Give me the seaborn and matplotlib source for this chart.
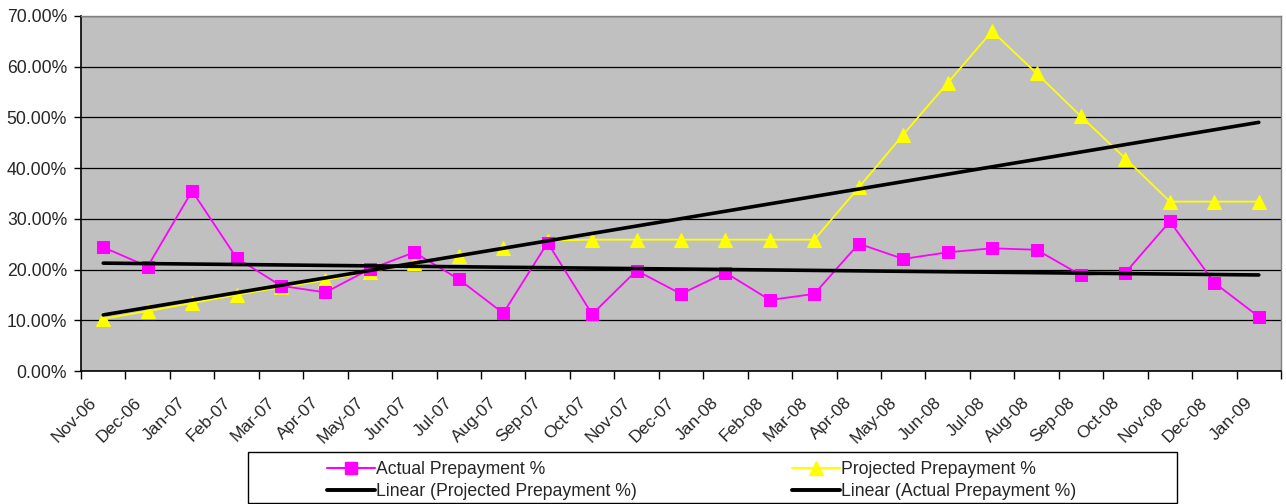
import numpy as np
import pandas as pd
import matplotlib
matplotlib.use("Agg")
import matplotlib.pyplot as plt
import seaborn as sns
from matplotlib.ticker import FuncFormatter, FixedLocator
from matplotlib.lines import Line2D
from matplotlib.patches import Rectangle

months = ["Nov-06", "Dec-06", "Jan-07", "Feb-07", "Mar-07", "Apr-07", "May-07", "Jun-07",
          "Jul-07", "Aug-07", "Sep-07", "Oct-07", "Nov-07", "Dec-07", "Jan-08", "Feb-08",
          "Mar-08", "Apr-08", "May-08", "Jun-08", "Jul-08", "Aug-08", "Sep-08", "Oct-08",
          "Nov-08", "Dec-08", "Jan-09"]
actual = [24.4, 20.6, 35.5, 22.3, 16.8, 15.5, 20.1, 23.4, 18.1, 11.4, 25.3, 11.2, 19.8,
          15.2, 19.4, 14.0, 15.2, 25.1, 22.1, 23.4, 24.2, 23.9, 18.9, 19.4, 29.5, 17.4, 10.7]
projected = [10.3, 11.8, 13.4, 15.0, 16.5, 17.9, 19.6, 21.2, 22.6, 24.2, 25.7, 25.9, 25.9,
             25.9, 25.9, 25.9, 25.9, 36.2, 46.6, 56.8, 67.0, 58.7, 50.2, 41.9, 33.4, 33.4, 33.4]

sns.set_style("white")
plt.rcParams['font.family'] = ['Liberation Sans', 'DejaVu Sans']

df = pd.DataFrame({"x": np.arange(len(months)), "month": months,
                   "actual": actual, "projected": projected})

W, H = 1286, 504
fig = plt.figure(figsize=(W / 100, H / 100), dpi=100)
ax = fig.add_axes([81 / W, 1 - 371 / H, 1200 / W, 355 / H])
ax.set_facecolor("#C0C0C0")

pink = "#FF00FF"
yellow = "#FFFF00"

sns.lineplot(data=df, x="x", y="projected", ax=ax, color=yellow, lw=1.3,
             marker="^", markersize=10, markeredgecolor=yellow, zorder=3)
sns.lineplot(data=df, x="x", y="actual", ax=ax, color=pink, lw=1.3,
             marker="s", markersize=9, markeredgecolor=pink, zorder=4)
sns.regplot(data=df, x="x", y="projected", ax=ax, scatter=False, ci=None,
            line_kws=dict(color="black", lw=2.6, zorder=5, solid_capstyle="round"))
sns.regplot(data=df, x="x", y="actual", ax=ax, scatter=False, ci=None,
            line_kws=dict(color="black", lw=2.6, zorder=5, solid_capstyle="round"))

n = len(months)
ax.set_xlim(-0.5, n - 0.5)
ax.set_ylim(0, 70)
ax.set_yticks(np.arange(0, 71, 10))
ax.yaxis.set_major_formatter(FuncFormatter(lambda v, p: f"{v:.2f}%"))
ax.grid(axis="y", color="black", lw=0.9)
ax.grid(axis="x", visible=False)
ax.set_axisbelow(True)

bounds = np.arange(-0.5, n, 1)
ax.xaxis.set_major_locator(FixedLocator(bounds))
ax.set_xticklabels([""] * len(bounds))
# labels sit slightly left of the category centre, as in the Excel original
ax.xaxis.set_minor_locator(FixedLocator(np.arange(n) - 0.2))
ax.set_xticklabels(months, minor=True, rotation=45, ha="right", va="center",
                   rotation_mode="anchor", fontsize=12.5)
ax.tick_params(axis="x", which="minor", length=0, pad=21)
ax.tick_params(axis="x", which="major", length=5.5, width=1, color="black", direction="out")
ax.tick_params(axis="y", length=5, width=1, color="black", direction="out", labelsize=12.7, pad=5)
ax.xaxis.set_ticks_position("bottom")
ax.yaxis.set_ticks_position("left")
ax.set_xlabel("")
ax.set_ylabel("")

for s in ["top", "right"]:
    ax.spines[s].set_color("#808080")
    ax.spines[s].set_linewidth(1)
for s in ["left", "bottom"]:
    ax.spines[s].set_color("black")
    ax.spines[s].set_linewidth(1.2)

# legend frame
fig.patches.append(Rectangle((248 / W, 1 - 503 / H), (1177 - 248) / W, 51 / H,
                             transform=fig.transFigure, fill=False, edgecolor="black",
                             lw=1, zorder=1))

h_actual = Line2D([], [], color=pink, lw=1.5, marker="s", markersize=9, markeredgecolor=pink)
h_proj = Line2D([], [], color=yellow, lw=1.5, marker="^", markersize=10, markeredgecolor=yellow)
h_lin = Line2D([], [], color="black", lw=2.8)

common = dict(frameon=False, fontsize=12.7, handlelength=2.7, handletextpad=0.1,
              labelspacing=0.3, borderpad=0, borderaxespad=0, loc="upper left")
leg1 = fig.legend([h_actual, h_lin], ["Actual Prepayment %", "Linear (Projected Prepayment %)"],
                  bbox_to_anchor=(327 / W, 1 - 461 / H), **common)
leg2 = fig.legend([h_proj, h_lin], ["Projected Prepayment %", "Linear (Actual Prepayment %)"],
                  bbox_to_anchor=(792 / W, 1 - 461 / H), **common)

fig.savefig("out.png", dpi=100, facecolor="white")
